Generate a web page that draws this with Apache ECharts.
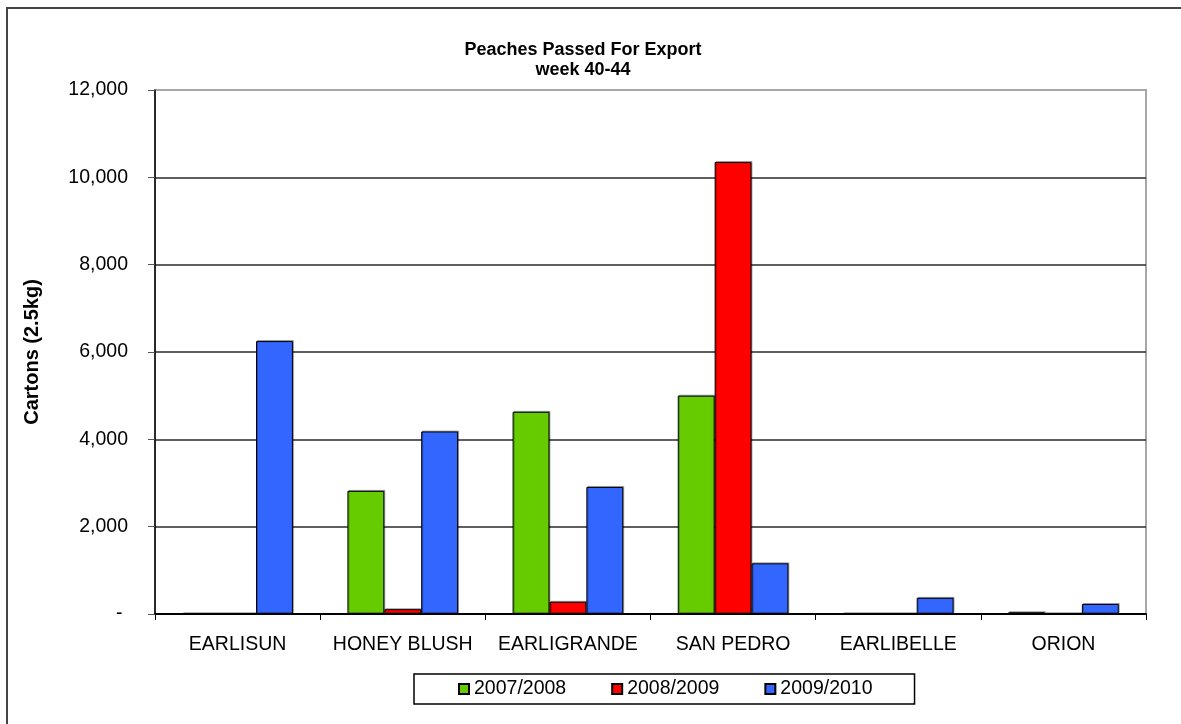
<!DOCTYPE html>
<html>
<head>
<meta charset="utf-8">
<script src="https://cdn.jsdelivr.net/npm/echarts@6/dist/echarts.min.js"></script>
<style>
  html, body { margin: 0; padding: 0; background: #fff; }
  #chart { width: 1181px; height: 724px; }
</style>
</head>
<body>
<div id="chart"></div>
<script>
const categories = ['EARLISUN', 'HONEY BLUSH', 'EARLIGRANDE', 'SAN PEDRO', 'EARLIBELLE', 'ORION'];
const seasons = ['2007/2008', '2008/2009', '2009/2010'];
const s2007 = [0, 2820, 4630, 5000, 0, 40];
const s2008 = [0, 110, 280, 10350, 0, 0];
const s2009 = [6250, 4180, 2910, 1160, 370, 230];
const colors = ['#66CC00', '#FF0000', '#3366FF'];

const font = "'Liberation Sans', Arial, sans-serif";

const chart = echarts.init(document.getElementById('chart'));

function fmt(v) {
  if (v === 0) return '- ';
  return v.toLocaleString('en-US');
}

const barStyle = c => ({
  color: c,
  borderColor: '#000',
  borderWidth: 1,
  shadowColor: 'rgba(0,0,0,0.3)',
  shadowOffsetX: 1,
  shadowOffsetY: -1
});

chart.setOption({
  animation: false,
  textStyle: { fontFamily: font },
  title: {
    text: 'Peaches Passed For Export\nweek 40-44',
    left: 578,
    textAlign: 'center',
    top: 35,
    textStyle: { fontFamily: font, fontSize: 18, fontWeight: 'bold', color: '#000', lineHeight: 20 }
  },
  graphic: [{
    type: 'rect',
    shape: { x: 7, y: 8, width: 1200, height: 800 },
    style: { fill: 'none', stroke: '#444', lineWidth: 2 },
    silent: true
  }],
  legend: {
    data: seasons,
    left: 414,
    top: 674,
    padding: [5, 42, 5, 44],
    itemWidth: 10,
    itemHeight: 10,
    itemGap: 45,
    icon: 'rect',
    borderColor: '#000',
    borderWidth: 1.5,
    textStyle: { fontFamily: font, fontSize: 19.5, color: '#000' }
  },
  grid: {
    left: 155,
    right: 35,
    top: 90,
    bottom: 110,
    show: true,
    borderColor: '#a8a8a8',
    borderWidth: 2
  },
  xAxis: {
    type: 'category',
    data: categories,
    axisLine: { lineStyle: { color: '#000', width: 2 } },
    axisTick: { show: true, length: 6, lineStyle: { color: '#000', width: 1 } },
    axisLabel: { fontFamily: font, fontSize: 19.5, color: '#000', margin: 21, interval: 0 }
  },
  yAxis: {
    type: 'value',
    min: 0,
    max: 12000,
    interval: 2000,
    name: 'Cartons (2.5kg)',
    nameLocation: 'middle',
    nameRotate: 90,
    nameGap: 113,
    nameTextStyle: { fontFamily: font, fontSize: 20, fontWeight: 'bold', color: '#000' },
    axisLine: { show: true, lineStyle: { color: '#000', width: 1.5 } },
    axisTick: { show: true, length: 7, lineStyle: { color: '#555', width: 1 } },
    axisLabel: { fontFamily: font, fontSize: 19.5, color: '#000', margin: 27, formatter: fmt },
    splitLine: { show: true, showMaxLine: false, lineStyle: { color: '#2a2a2a', width: 1.5 } }
  },
  series: [
    { name: seasons[0], type: 'bar', data: s2007, itemStyle: barStyle(colors[0]), barGap: '0%', barCategoryGap: '33%' },
    { name: seasons[1], type: 'bar', data: s2008, itemStyle: barStyle(colors[1]), barGap: '0%', barCategoryGap: '33%' },
    { name: seasons[2], type: 'bar', data: s2009, itemStyle: barStyle(colors[2]), barGap: '0%', barCategoryGap: '33%' }
  ]
});
</script>
</body>
</html>
